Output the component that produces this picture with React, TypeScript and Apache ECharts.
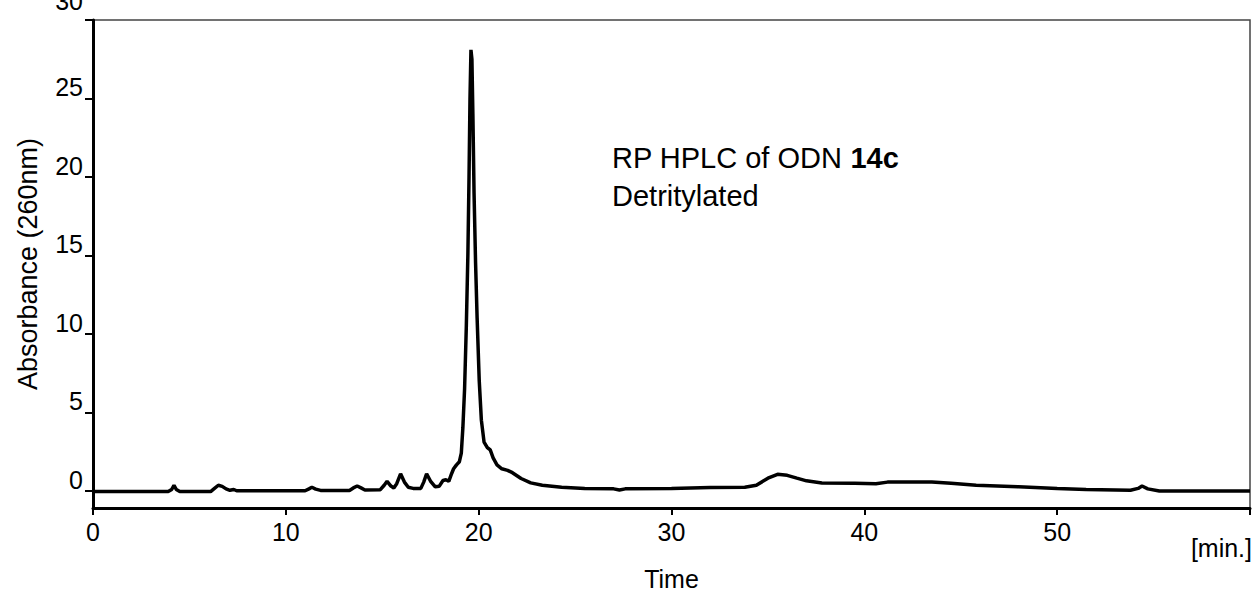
import React, { useEffect, useRef } from "react";
import * as echarts from "echarts";

const times = [
  0, 3.9, 4.08, 4.2, 4.32, 4.5, 6.1, 6.3, 6.5, 6.7, 6.9, 7.1, 7.3, 7.45, 11.0, 11.2, 11.35, 11.55, 11.8,
  13.3, 13.5, 13.7, 13.9, 14.1, 14.9, 15.1, 15.25, 15.45, 15.6, 15.75, 15.95, 16.15, 16.35, 16.6, 17.0,
  17.15, 17.3, 17.5, 17.75, 17.95, 18.15, 18.3, 18.45, 18.6, 18.7, 18.85, 19.0, 19.1, 19.18, 19.27,
  19.36, 19.44, 19.5, 19.55, 19.6, 19.65, 19.7, 19.76, 19.84, 19.92, 20.03, 20.14, 20.28, 20.45, 20.6,
  20.75, 20.95, 21.2, 21.5, 21.75, 22.2, 22.7, 23.3, 24.3, 25.5, 27.0, 27.3, 27.6, 30, 32, 33.8, 34.4,
  35.0, 35.5, 36.0, 36.5, 37.0, 37.8, 39.5, 40.6, 41.2, 43.5, 44.5, 45.8, 48.0, 50.0, 51.5, 53.8, 54.2,
  54.4, 54.7, 55.3, 60,
];
const absorbance = [
  -0.05, -0.05, 0.08, 0.35, 0.08, -0.05, -0.05, 0.15, 0.35, 0.28, 0.12, 0.03, 0.08, 0.0, 0.0, 0.12, 0.22,
  0.1, 0.02, 0.02, 0.18, 0.3, 0.18, 0.05, 0.07, 0.35, 0.6, 0.3, 0.18, 0.45, 1.08, 0.55, 0.22, 0.15, 0.15,
  0.55, 1.08, 0.62, 0.25, 0.28, 0.65, 0.7, 0.6, 1.1, 1.4, 1.65, 1.85, 2.4, 4.0, 6.5, 10.5, 15, 20, 25,
  28.1, 27.5, 24, 19, 14.5, 11, 7, 4.5, 3.1, 2.75, 2.6, 2.1, 1.65, 1.4, 1.3, 1.15, 0.78, 0.5, 0.35, 0.22,
  0.15, 0.12, 0.05, 0.12, 0.15, 0.2, 0.22, 0.35, 0.8, 1.05, 0.98, 0.8, 0.63, 0.5, 0.48, 0.45, 0.55, 0.55,
  0.48, 0.35, 0.25, 0.15, 0.08, 0.03, 0.15, 0.3, 0.12, -0.02, -0.02,
];
const yTicks = [0, 5, 10, 15, 20, 25, 30];
const xTicks = [0, 10, 20, 30, 40, 50, 60];
const xLabels = [0, 10, 20, 30, 40, 50];

const FONT = "'Liberation Sans', Arial, sans-serif";

export default function App() {
  const ref = useRef<HTMLDivElement>(null);
  useEffect(() => {
    if (!ref.current) return;
    const chart = echarts.init(ref.current, null, { renderer: "svg" });
    const data = times.map((t, i) => [t, absorbance[i]]);
    chart.setOption({
      animation: false,
      backgroundColor: "#fff",
      grid: {
        left: 93,
        right: 7,
        top: 20,
        bottom: 86,
        show: true,
        borderColor: "#444",
        borderWidth: 1.5,
        outerBoundsMode: "none",
        containLabel: false,
      },
      xAxis: {
        type: "value",
        min: 0,
        max: 60,
        interval: 10,
        name: "Time",
        nameLocation: "middle",
        nameGap: 58,
        nameTextStyle: { color: "#000", fontSize: 25, fontFamily: FONT },
        axisLine: { onZero: false, lineStyle: { color: "#000", width: 3 } },
        axisTick: { show: true, length: 7, lineStyle: { color: "#000", width: 2 }, customValues: xTicks },
        axisLabel: {
          color: "#000",
          fontSize: 25,
          fontFamily: FONT,
          margin: 11,
          customValues: xLabels,
        },
        splitLine: { show: false },
      },
      yAxis: {
        type: "value",
        min: -1.1,
        max: 30,
        name: "Absorbance (260nm)",
        nameLocation: "middle",
        nameGap: 52,
        nameTextStyle: { color: "#000", fontSize: 27, fontFamily: FONT },
        axisLine: { lineStyle: { color: "#000", width: 3 } },
        axisTick: { show: true, length: 8, lineStyle: { color: "#000", width: 2 }, customValues: yTicks },
        axisLabel: {
          color: "#000",
          fontSize: 25,
          fontFamily: FONT,
          margin: 10,
          verticalAlign: "bottom",
          lineHeight: 22,
          customValues: yTicks,
          formatter: (v: number) => (v === 30 ? "{t|30}" : "{d|" + v + "}"),
          rich: {
            t: { fontSize: 25, fontFamily: FONT, color: "#000", lineHeight: 32, verticalAlign: "top" },
            d: { fontSize: 25, fontFamily: FONT, color: "#000", lineHeight: 22 },
          },
        },
        splitLine: { show: false },
      },
      series: [
        {
          type: "line",
          data,
          showSymbol: false,
          lineStyle: { color: "#000", width: 3.5 },
          itemStyle: { color: "#000" },
        },
      ],
      graphic: [
        {
          type: "text",
          left: 612,
          top: 143,
          style: {
            text: "{n|RP HPLC of ODN }{b|14c}\n{n|Detritylated}",
            rich: {
              n: { fontSize: 29, fontFamily: FONT, fill: "#000", lineHeight: 38 },
              b: { fontSize: 29, fontFamily: FONT, fontWeight: "bold", fill: "#000", lineHeight: 38 },
            },
          },
        },
        {
          type: "text",
          right: 5,
          top: 535,
          style: { text: "[min.]", fontSize: 25, fontFamily: FONT, fill: "#000" },
        },
      ],
    });
    return () => chart.dispose();
  }, []);
  return <div ref={ref} style={{ position: "fixed", left: 0, top: 0, width: 1257, height: 594 }} />;
}
